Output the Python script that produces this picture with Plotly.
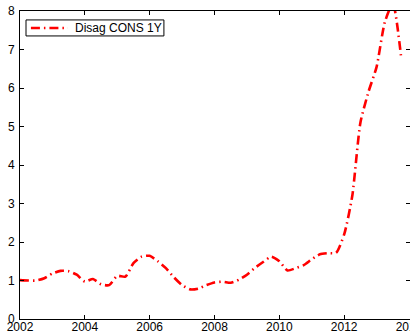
import plotly.graph_objects as go

# Quarterly observations
quarters = [
    2002.0, 2002.25, 2002.5, 2002.75,
    2003.0, 2003.25, 2003.5, 2003.75,
    2004.0, 2004.25, 2004.5, 2004.75,
    2005.0, 2005.25, 2005.5, 2005.75,
    2006.0, 2006.25, 2006.5, 2006.75,
    2007.0, 2007.25, 2007.5, 2007.75,
    2008.0, 2008.25, 2008.5, 2008.75,
    2009.0, 2009.25, 2009.5, 2009.75,
    2010.0, 2010.25, 2010.5, 2010.75,
    2011.0, 2011.25, 2011.5, 2011.75,
    2012.0, 2012.25, 2012.5, 2012.75,
    2013.0, 2013.25, 2013.5, 2013.75,
]
disag_cons_1y = [
    1.01, 1.00, 1.00, 1.06,
    1.18, 1.25, 1.24, 1.15,
    0.97, 1.04, 0.90, 0.88,
    1.12, 1.10, 1.45, 1.62,
    1.64, 1.50, 1.32, 1.08,
    0.88, 0.77, 0.79, 0.88,
    0.95, 0.97, 0.94, 1.02,
    1.15, 1.33, 1.48, 1.62,
    1.50, 1.26, 1.32, 1.40,
    1.55, 1.68, 1.71, 1.72,
    2.20, 3.20, 5.10, 5.90,
    6.55, 7.70, 8.20, 6.85,
]

x_ticks = [2002, 2004, 2006, 2008, 2010, 2012, 2014]
y_ticks = [0, 1, 2, 3, 4, 5, 6, 7, 8]
series_name = "Disag CONS 1Y"

LINE_COLOR = "#ff0000"
LINE_DASH = "9px,4px,1.5px,4px"
FONT = dict(family="Liberation Sans, Arial, sans-serif", size=12, color="black")

fig = go.Figure()
fig.add_trace(go.Scatter(
    x=quarters,
    y=disag_cons_1y,
    mode="lines",
    name=series_name,
    line=dict(color=LINE_COLOR, width=2.6, dash=LINE_DASH,
              shape="spline", smoothing=0.6),
    showlegend=False,
))

axis_common = dict(
    showgrid=False,
    zeroline=False,
    showline=True,
    linecolor="black",
    linewidth=1,
    mirror="ticks",
    ticks="inside",
    ticklen=4,
    tickwidth=1,
    tickcolor="black",
    tickfont=FONT,
)

fig.update_xaxes(range=[2002, 2014.03], tickvals=x_ticks, ticktext=[str(v) for v in x_ticks],
                 ticklabelstandoff=-3, ticklabeloverflow="allow", **axis_common)
fig.update_yaxes(range=[0, 8], tickvals=y_ticks, ticktext=[str(v) for v in y_ticks],
                 ticklabelstandoff=2, **axis_common)

# Compact boxed legend in the upper-left corner of the axes
fig.add_shape(type="rect", xref="paper", yref="paper",
              x0=0.0154, x1=0.369, y0=0.919, y1=0.971,
              line=dict(color="black", width=1), fillcolor="white", layer="above")
fig.add_shape(type="line", xref="paper", yref="paper",
              x0=0.028, x1=0.123, y0=0.945, y1=0.945,
              line=dict(color=LINE_COLOR, width=2.6, dash=LINE_DASH), layer="above")
fig.add_annotation(text=series_name, xref="paper", yref="paper",
                   x=0.137, y=0.945, xanchor="left", yanchor="middle",
                   showarrow=False, font=FONT)

fig.update_layout(
    width=410,
    height=335,
    margin=dict(l=20, r=0, t=11, b=16, autoexpand=False),
    paper_bgcolor="white",
    plot_bgcolor="white",
    showlegend=False,
)

fig.write_html("out.html")
